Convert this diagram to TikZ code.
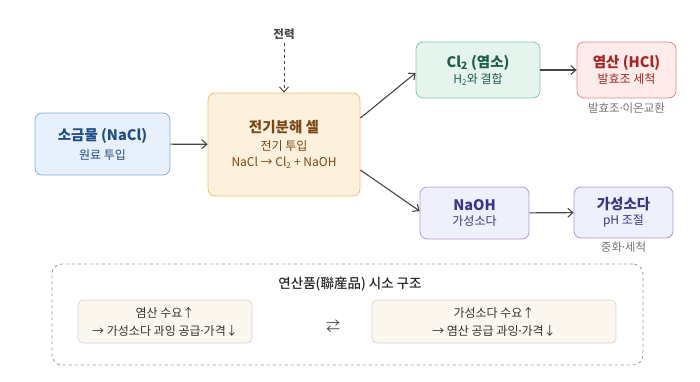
\documentclass[tikz,border=0pt]{standalone}
\usepackage{fontspec}
\setmainfont{Noto Sans CJK KR}
\newfontfamily\medfont{Noto Sans CJK KR Medium}
\usetikzlibrary{arrows.meta}

\definecolor{saltfill}{HTML}{E8F1FB}
\definecolor{saltline}{HTML}{7FB0E0}
\definecolor{salttext}{HTML}{1F4E85}
\definecolor{cellfill}{HTML}{FDF0DC}
\definecolor{cellline}{HTML}{F0BC72}
\definecolor{celltext}{HTML}{7A4612}
\definecolor{clfill}{HTML}{E5F5EE}
\definecolor{clline}{HTML}{82C7AC}
\definecolor{cltext}{HTML}{1D5E48}
\definecolor{hclfill}{HTML}{FDECEA}
\definecolor{hclline}{HTML}{EA8A80}
\definecolor{hcltext}{HTML}{A82323}
\definecolor{nafill}{HTML}{F0EFFC}
\definecolor{naline}{HTML}{A39BDD}
\definecolor{natext}{HTML}{3B3588}
\definecolor{seefill}{HTML}{FBF7EE}
\definecolor{seeline}{HTML}{D6D2C8}
\definecolor{arrowgray}{HTML}{454545}

\newcommand{\mdot}{\kern-1.8pt·\kern-1.8pt}
\newcommand{\boxtitle}{\fontsize{14.5}{18}\selectfont\bfseries}
\newcommand{\boxsub}{\fontsize{12}{14}\selectfont}

\tikzset{
  box/.style={draw, rounded corners=7pt, line width=0.8pt, align=center},
  flow/.style={-{Straight Barb[length=5pt,width=9pt]}, line width=1.1pt, arrowgray},
  note/.style={font=\fontsize{11.5}{13}\selectfont, text=gray!90!black},
  seebox/.style={box, rounded corners=5pt, fill=seefill, draw=seeline, line width=0.6pt, minimum height=43pt,
    font=\fontsize{12}{18}\selectfont, text=black!80},
}

\begin{document}
\begin{tikzpicture}[x=1pt, y=-1pt]
  \useasboundingbox (0,0) rectangle (700,381);

  % main chain
  \node[box, fill=saltfill, draw=saltline, minimum width=135pt, minimum height=62pt, text=salttext]
    (salt) at (102.5,144) {{\boxtitle 소금물 (NaCl)}\\[5pt]{\boxsub 원료 투입}};
  \node[box, fill=cellfill, draw=cellline, minimum width=152pt, minimum height=103pt, text=celltext]
    (cell) at (284,144.5) {{\boxtitle 전기분해 셀}\\[6pt]{\boxsub 전기 투입}\\[4pt]{\boxsub NaCl → Cl\textsubscript{2} + NaOH}};
  \node[font=\fontsize{11.5}{14}\selectfont\bfseries, text=arrowgray] (power) at (284,34) {전력};

  % chlorine branch
  \node[box, fill=clfill, draw=clline, minimum width=124pt, minimum height=56pt, text=cltext]
    (cl) at (478,70) {{\boxtitle Cl\textsubscript{2} (염소)}\\[2pt]{\boxsub H\textsubscript{2}와 결합}};
  \node[box, fill=hclfill, draw=hclline, minimum width=99pt, minimum height=56pt, text=hcltext]
    (hcl) at (626.5,70) {{\boxtitle 염산 (HCl)}\\[2pt]{\boxsub 발효조 세척}};
  \node[note] (hcluse) at (626.5,108) {발효조\mdot 이온교환};

  % caustic branch
  \node[box, fill=nafill, draw=naline, minimum width=109pt, minimum height=52pt, text=natext]
    (naoh) at (474.5,213) {{\boxtitle NaOH}\\[3pt]{\boxsub 가성소다}};
  \node[box, fill=nafill, draw=naline, minimum width=99pt, minimum height=51pt, text=natext]
    (soda) at (623.5,212.5) {{\boxtitle 가성소다}\\[3pt]{\boxsub pH 조절}};
  \node[note] (sodause) at (623.5,247) {중화\mdot 세척};

  \draw[flow] (salt) -- (cell);
  \draw[flow, dashed, line width=0.9pt] (power) -- (cell);
  \draw[flow] (cell.east |- 0,118) -- (cl.south west |- 0,73);
  \draw[flow] (cell.east |- 0,170) -- (naoh.west |- 0,211);
  \draw[flow] (cl) -- (hcl);
  \draw[flow] (naoh) -- (soda);

  % seesaw panel
  \node[draw=gray!80, dashed, rounded corners=10pt, line width=0.8pt, minimum width=591pt, minimum height=101pt]
    (panel) at (347.5,314.5) {};
  \node[font=\fontsize{13.5}{15}\selectfont\medfont, text=black!85] (paneltitle) at (350,284) {연산품(聯産品) 시소 구조};
  \node[seebox, minimum width=174pt] (left) at (165,321.5) {염산 수요↑\\→ 가성소다 과잉 공급\mdot 가격↓};
  \node[seebox, minimum width=244pt] (right) at (494,321.5) {가성소다 수요↑\\→ 염산 공급 과잉\mdot 가격↓};
  \node[font=\fontsize{14}{15}\selectfont, text=black!70] (swap) at (333,326) {⇄};
\end{tikzpicture}
\end{document}
